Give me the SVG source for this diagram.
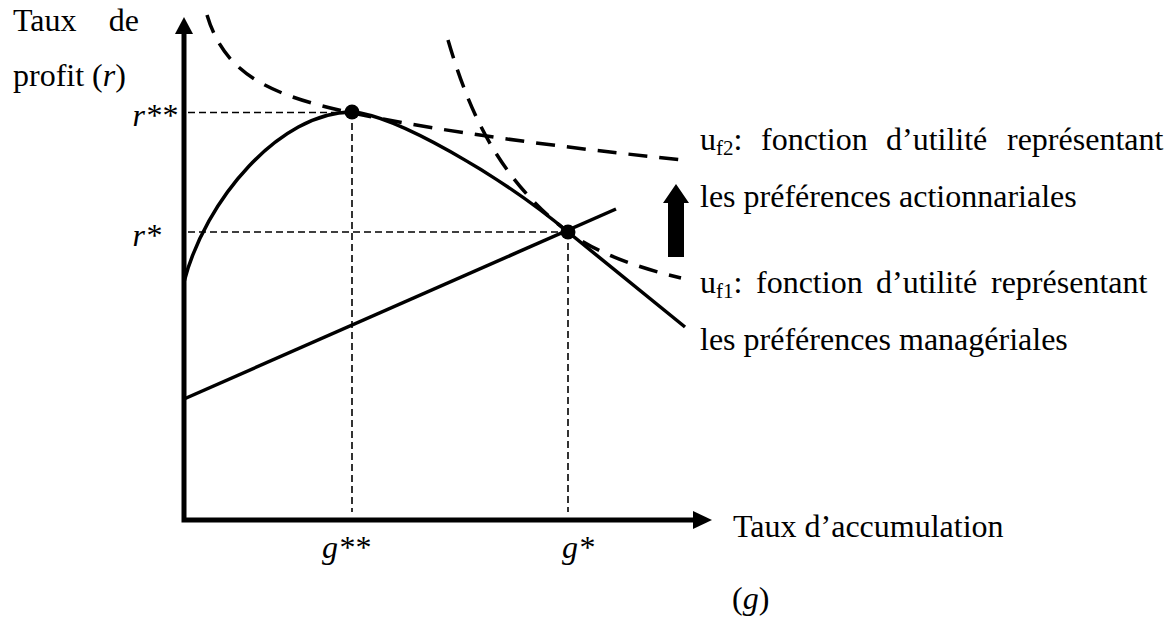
<svg xmlns="http://www.w3.org/2000/svg" width="1173" height="626" viewBox="0 0 1173 626">
<style>
text{font-family:"Liberation Serif","Times New Roman",serif;font-size:32px;fill:#000}
.it{font-style:italic}
.sub{font-size:21px}
.axis{stroke:#000;stroke-width:5;fill:none;stroke-linecap:square}
.guide{stroke:#000;stroke-width:1.6;fill:none;stroke-dasharray:7 4}
.curve{stroke:#000;stroke-width:3.5;fill:none}
.util{stroke:#000;stroke-width:3.5;fill:none;stroke-dasharray:19 12}
</style>
<rect width="1173" height="626" fill="#fff"/>
<g id="axes">
<path class="axis" d="M184,33 L184,520 L693,520"/>
<polygon points="184,17 175,34 193,34" fill="#000"/>
<polygon points="712,520 693,511 693,529" fill="#000"/>
</g>
<g id="connectors">
<path class="guide" d="M188,112.5 L352,112.5"/>
<path class="guide" d="M188,232 L568,232"/>
<path class="guide" d="M352,112 L352,512"/>
<path class="guide" d="M568,232 L568,512"/>
</g>
<g id="profit-curve">
<path class="curve" d="M184,282 C205,200 280,112 352,112 C395,115 500,175 568,232 L685,327"/>
</g>
<g id="accumulation-line">
<path class="curve" d="M184,399 L616,209"/>
</g>
<g id="uf2">
<path class="util" d="M207,15 C225,75 270,95 352,113 C450,133 560,147 682,160"/>
</g>
<g id="uf1">
<path class="util" d="M448,40 C470,115 500,180 568,232 C600,255 640,268 681,278"/>
</g>
<g id="points">
<circle cx="352" cy="112" r="7.5" fill="#000"/>
<circle cx="568" cy="232" r="7.5" fill="#000"/>
</g>
<g id="shift-arrow">
<polygon points="676,184 663,203 668,203 668,257 684,257 684,203 689,203" fill="#000"/>
</g>
<g id="labels">
<text x="13" y="31">Taux</text>
<text x="139" y="31" text-anchor="end">de</text>
<text x="13" y="86">profit (<tspan class="it">r</tspan>)</text>
<text x="177" y="126" text-anchor="end" class="it">r**</text>
<text x="161" y="246" text-anchor="end" class="it">r*</text>
<text x="322" y="558" class="it">g**</text>
<text x="562" y="558" class="it">g*</text>
<text x="733" y="537">Taux d’accumulation</text>
<text x="732" y="609">(<tspan class="it">g</tspan>)</text>
</g>
<g id="uf2-label">
<text y="150"><tspan x="700">u</tspan><tspan class="sub" dy="5">f2</tspan><tspan dy="-5">:</tspan><tspan x="761">fonction</tspan><tspan x="886">d’utilité</tspan><tspan x="1007">représentant</tspan></text>
<text x="700" y="207">les préférences actionnariales</text>
</g>
<g id="uf1-label">
<text y="293"><tspan x="700">u</tspan><tspan class="sub" dy="5">f1</tspan><tspan dy="-5">:</tspan><tspan x="756">fonction</tspan><tspan x="876">d’utilité</tspan><tspan x="991">représentant</tspan></text>
<text x="700" y="350">les préférences managériales</text>
</g>
</svg>
